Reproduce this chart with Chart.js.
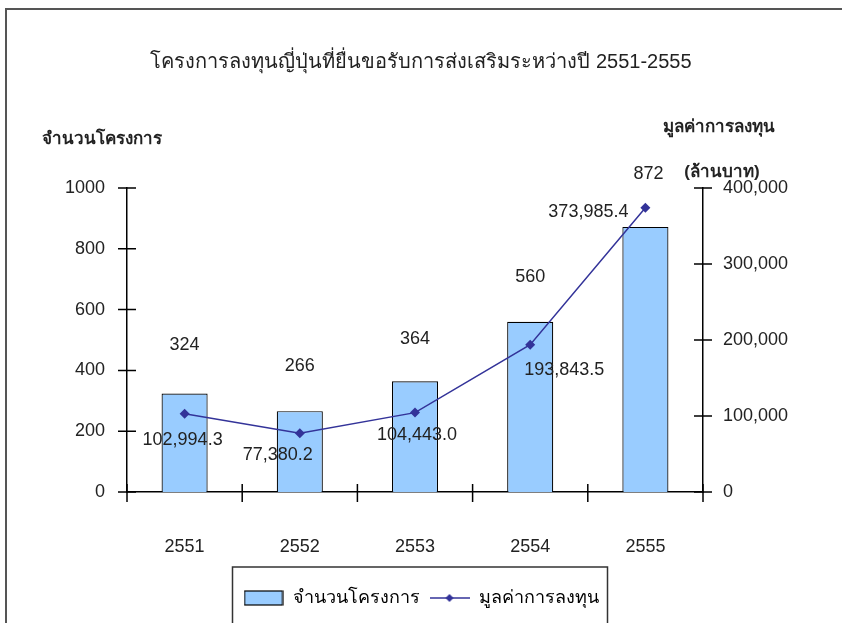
<!DOCTYPE html>
<html>
<head>
<meta charset="utf-8">
<script src="https://cdn.jsdelivr.net/npm/chart.js@4.4.1/dist/chart.umd.min.js"></script>
<style>
  html, body { margin: 0; padding: 0; background: #fff; }
  #wrap { position: relative; width: 842px; height: 623px; overflow: hidden; }
  #frame { position: absolute; left: 5px; top: 8px; width: 860px; height: 640px;
           border-top: 2px solid #555; border-left: 2px solid #555; }
  canvas { position: absolute; left: 0; top: 0; }
</style>
</head>
<body>
<div id="wrap">
  <div id="frame"></div>
  <canvas id="chart" width="842" height="623"></canvas>
</div>
<script>
// --- data ---
const years = ['2551', '2552', '2553', '2554', '2555'];
const projectCounts = [324, 266, 364, 560, 872];
const investValues = [102994.3, 77380.2, 104443.0, 193843.5, 373985.4];

const chartTitle = 'โครงการลงทุนญี่ปุ่นที่ยื่นขอรับการส่งเสริมระหว่างปี 2551-2555';
const leftAxisTitle = 'จำนวนโครงการ';
const rightAxisTitle = ['มูลค่าการลงทุน', '(ล้านบาท)'];
const seriesNames = ['จำนวนโครงการ', 'มูลค่าการลงทุน'];

const countTicks = [0, 200, 400, 600, 800, 1000];
const valueTicks = [0, 100000, 200000, 300000, 400000];

const FONT = "Tahoma, 'Liberation Sans', Arial, sans-serif";
const TEXT = '#222';
const BAR_FILL = '#99CCFF';
const LINE_COLOR = '#333399';

Chart.defaults.font.family = FONT;
Chart.defaults.color = TEXT;

// little canvases used as legend symbols
function barSymbol() {
    const c = document.createElement('canvas');
    c.width = 40; c.height = 16;
    const g = c.getContext('2d');
    g.fillStyle = BAR_FILL;
    g.fillRect(1, 1, 38, 14);
    g.strokeStyle = '#000';
    g.lineWidth = 1.2;
    g.strokeRect(1, 1, 38, 14);
    return c;
}

function lineSymbol() {
    const c = document.createElement('canvas');
    c.width = 40; c.height = 12;
    const g = c.getContext('2d');
    g.strokeStyle = LINE_COLOR;
    g.lineWidth = 1.5;
    g.beginPath();
    g.moveTo(0, 6); g.lineTo(40, 6);
    g.stroke();
    g.fillStyle = LINE_COLOR;
    g.beginPath();
    g.moveTo(20, 2); g.lineTo(24, 6); g.lineTo(20, 10); g.lineTo(16, 6);
    g.closePath();
    g.fill();
    return c;
}

const fmt = (v, d) => v.toLocaleString('en-US', { minimumFractionDigits: d, maximumFractionDigits: d });

// Excel style tick marks that cross the axis lines
const crossTicks = {
    id: 'crossTicks',
    afterDraw(chart) {
        const { ctx, chartArea, scales } = chart;
        ctx.save();
        ctx.strokeStyle = '#000';
        ctx.lineWidth = 1.5;
        ctx.beginPath();
        countTicks.forEach(v => {
            const y = scales.y.getPixelForValue(v);
            ctx.moveTo(chartArea.left - 9, y); ctx.lineTo(chartArea.left + 9, y);
        });
        valueTicks.forEach(v => {
            const y = scales.y1.getPixelForValue(v);
            ctx.moveTo(chartArea.right - 9, y); ctx.lineTo(chartArea.right + 9, y);
        });
        const step = (chartArea.right - chartArea.left) / years.length;
        for (let i = 0; i <= years.length; i++) {
            const x = chartArea.left + i * step;
            ctx.moveTo(x, chartArea.bottom - 8); ctx.lineTo(x, chartArea.bottom + 10);
        }
        ctx.stroke();
        ctx.restore();
    }
};

// value labels, placed like the hand-moved Excel labels
const valueLabels = {
    id: 'valueLabels',
    afterDatasetsDraw(chart, args, opts) {
        const { ctx } = chart;
        ctx.save();
        ctx.font = '18px ' + FONT;
        ctx.fillStyle = TEXT;
        ctx.textAlign = 'center';
        ctx.textBaseline = 'middle';
        chart.getDatasetMeta(0).data.forEach((bar, i) => {
            const [dx, dy] = opts.barShift[i];
            ctx.fillText(fmt(projectCounts[i], 0), bar.x + dx, bar.y + dy);
        });
        chart.getDatasetMeta(1).data.forEach((pt, i) => {
            const [dx, dy] = opts.lineShift[i];
            ctx.fillText(fmt(investValues[i], 1), pt.x + dx, pt.y + dy);
        });
        ctx.restore();
    }
};

// axis titles sit horizontally above the axes
const axisTitles = {
    id: 'axisTitles',
    afterDraw(chart) {
        const { ctx, chartArea } = chart;
        ctx.save();
        ctx.font = 'bold 17px ' + FONT;
        ctx.fillStyle = TEXT;
        ctx.textBaseline = 'middle';
        ctx.textAlign = 'left';
        ctx.fillText(leftAxisTitle, chartArea.left - 85, chartArea.top - 49);
        ctx.textAlign = 'center';
        ctx.fillText(rightAxisTitle[0], chartArea.right + 16, chartArea.top - 61);
        ctx.fillText(rightAxisTitle[1], chartArea.right + 19, chartArea.top - 16);
        ctx.restore();
    }
};

// border round the legend, the bottom runs off the page
const legendBox = {
    id: 'legendBox',
    afterDraw(chart) {
        const boxes = chart.legend.legendHitBoxes;
        if (!boxes || !boxes.length) return;
        const left = Math.min(...boxes.map(b => b.left)) - 11;
        const right = Math.max(...boxes.map(b => b.left + b.width)) + 9;
        const top = boxes[0].top - 22;
        const { ctx } = chart;
        ctx.save();
        ctx.strokeStyle = '#333';
        ctx.lineWidth = 1.5;
        ctx.strokeRect(left, top, right - left, chart.height + 20 - top);
        ctx.restore();
    }
};

const ctx = document.getElementById('chart').getContext('2d');
const chart = new Chart(ctx, {
    type: 'bar',
    data: {
        labels: years,
        datasets: [
            {
                type: 'bar',
                label: seriesNames[0],
                data: projectCounts,
                yAxisID: 'y',
                backgroundColor: BAR_FILL,
                borderColor: '#000',
                borderWidth: 1.2,
                barPercentage: 0.4,
                categoryPercentage: 1.0,
                order: 1
            },
            {
                type: 'line',
                label: seriesNames[1],
                data: investValues,
                yAxisID: 'y1',
                borderColor: LINE_COLOR,
                borderWidth: 1.5,
                backgroundColor: LINE_COLOR,
                pointStyle: 'rectRot',
                pointRadius: 5,
                pointBackgroundColor: LINE_COLOR,
                pointBorderWidth: 0,
                tension: 0,
                order: 0
            }
        ]
    },
    options: {
        responsive: false,
        animation: false,
        layout: { padding: { left: 0, right: 0, top: 0, bottom: 6 } },
        plugins: {
            title: {
                display: true,
                text: chartTitle,
                color: TEXT,
                font: { size: 20, weight: 'normal' },
                padding: { top: 50, bottom: 114 }
            },
            legend: {
                position: 'bottom',
                labels: {
                    usePointStyle: true,
                    pointStyleWidth: 40,
                    padding: 10,
                    font: { size: 18 },
                    color: TEXT,
                    generateLabels: () => [
                        { text: seriesNames[0], pointStyle: barSymbol(), datasetIndex: 0, hidden: false, lineWidth: 0 },
                        { text: seriesNames[1], pointStyle: lineSymbol(), datasetIndex: 1, hidden: false, lineWidth: 0 }
                    ]
                }
            },
            tooltip: { enabled: false },
            valueLabels: {
                barShift: [[0, -48], [0, -45], [0, -42], [0, -45], [3, -53]],
                lineShift: [[-2, 26], [-22, 22], [2, 22], [34, 25], [-57, 4]]
            }
        },
        scales: {
            x: {
                offset: true,
                grid: { display: false, drawTicks: false },
                border: { display: true, color: '#000', width: 1.5 },
                ticks: { padding: 44, font: { size: 18 }, color: TEXT, maxRotation: 0 },
                afterFit: s => { s.height = 87; }
            },
            y: {
                position: 'left',
                min: 0,
                max: 1000,
                grid: { display: false, drawTicks: false },
                border: { display: true, color: '#000', width: 1.5 },
                ticks: { stepSize: 200, padding: 22, font: { size: 18 }, color: TEXT, callback: v => String(v) },
                afterFit: s => { s.width = 127; }
            },
            y1: {
                position: 'right',
                min: 0,
                max: 400000,
                grid: { display: false, drawTicks: false },
                border: { display: true, color: '#000', width: 1.5 },
                ticks: {
                    stepSize: 100000,
                    padding: 20,
                    font: { size: 18 },
                    color: TEXT,
                    callback: v => fmt(v, 0)
                },
                afterFit: s => { s.width = 139; }
            }
        }
    },
    plugins: [crossTicks, valueLabels, axisTitles, legendBox]
});
</script>
</body>
</html>
